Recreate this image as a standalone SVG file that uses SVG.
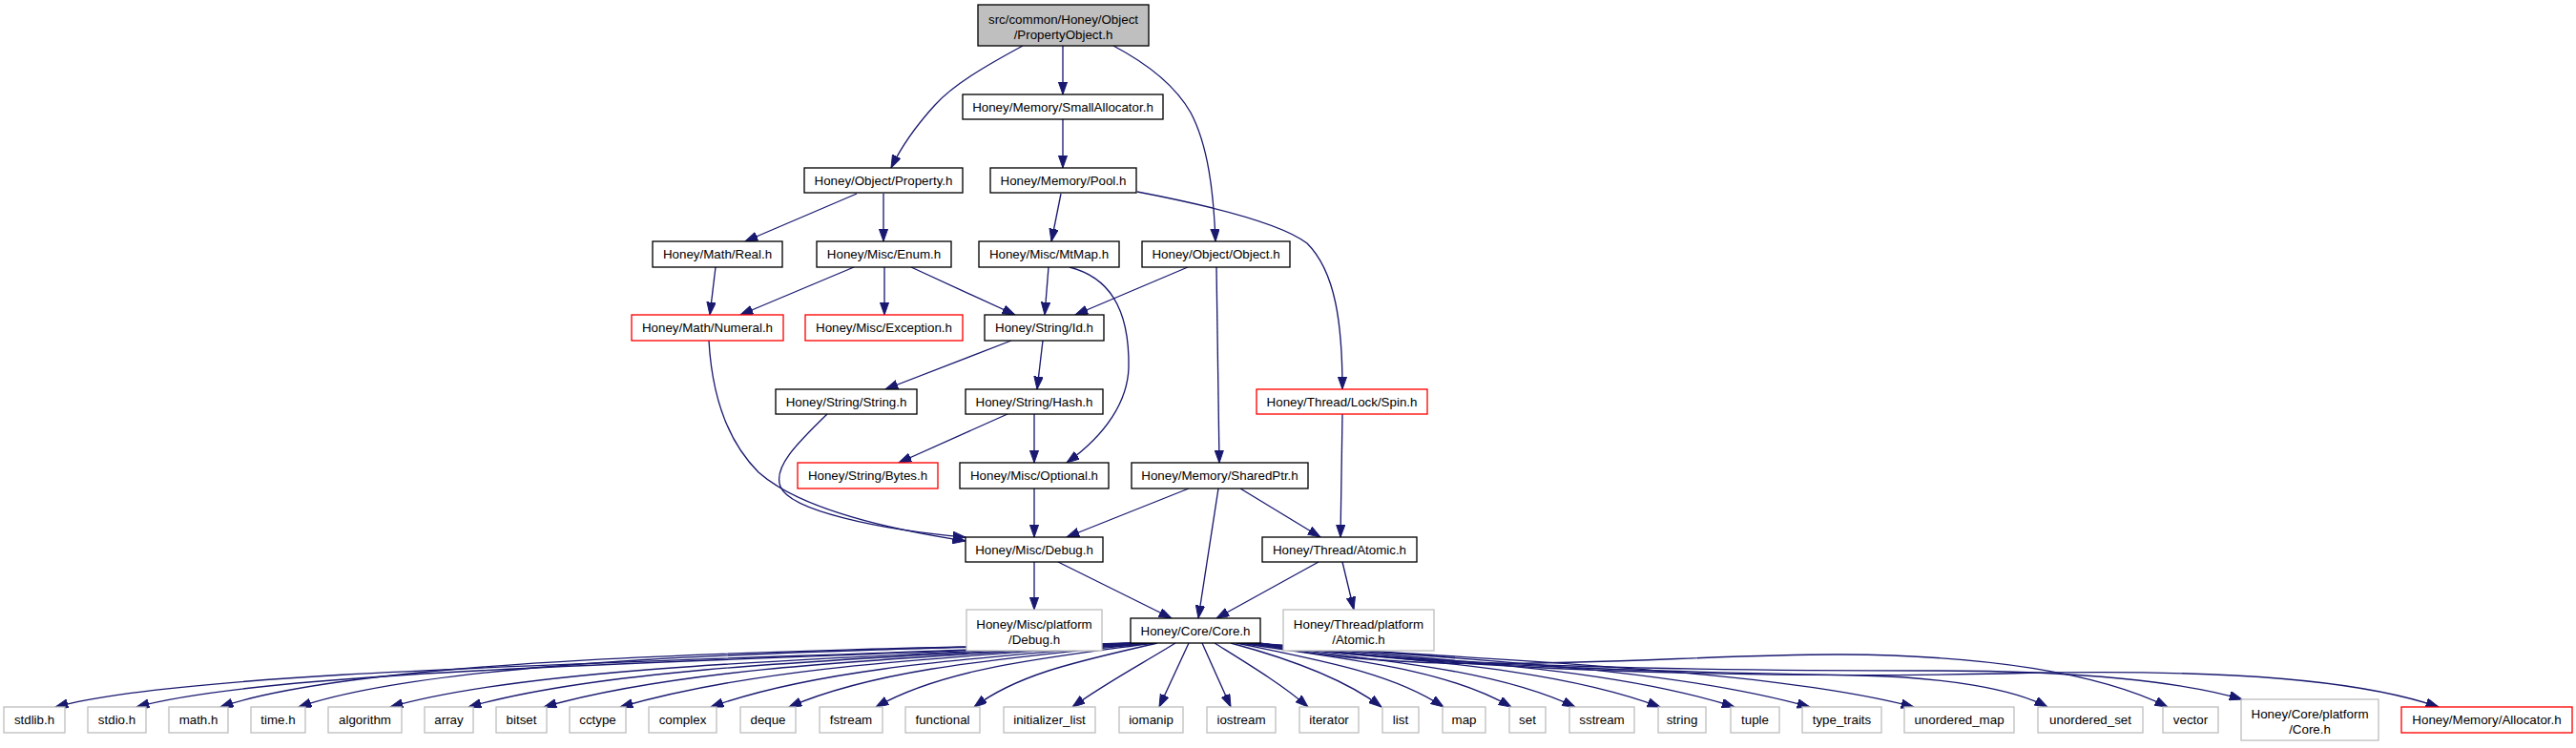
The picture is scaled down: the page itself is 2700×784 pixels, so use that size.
<svg xmlns="http://www.w3.org/2000/svg" width="2700" height="784" viewBox="0 0 2700 784">
<style>
rect{fill:#fff;stroke:#000;stroke-width:1.33}
.g rect{stroke:#bfbfbf}
.r rect{stroke:#ff0000}
.root rect{fill:#bfbfbf}
text{font-family:"Liberation Sans",Arial,sans-serif;font-size:13.33px;text-anchor:middle;fill:#000}
#edges path{fill:none;stroke:#191970;stroke-width:1.33;marker-end:url(#ah)}
</style>
<defs>
<marker id="ah" markerUnits="userSpaceOnUse" markerWidth="14" markerHeight="10" refX="13.3" refY="4.7" orient="auto"><path d="M0,0 L13.3,4.7 L0,9.4 z" fill="#191970" stroke="#191970" stroke-width="1"/></marker>
</defs>
<rect x="0" y="0" width="2700" height="784" style="fill:#fff;stroke:none"/>
<g id="edges">
<path d="M1114,48 L1114,99"/>
<path d="M1072,48 C1035,68 1000,88 980,110 C960,132 944,155 934,176"/>
<path d="M1167,48 C1205,68 1232,90 1248,118 C1266,152 1272,200 1274,253"/>
<path d="M1114,125 L1114,176"/>
<path d="M898,203 L781,253"/>
<path d="M926,203 L926,253"/>
<path d="M1112,203 L1102,253"/>
<path d="M1192,201 C1260,214 1340,232 1370,255 C1400,285 1407,340 1407,408"/>
<path d="M750,280 L744,330"/>
<path d="M895,280 L776,330"/>
<path d="M927,280 L927,330"/>
<path d="M955,280 L1064,330"/>
<path d="M1099,280 L1095,330"/>
<path d="M1121,280 C1160,290 1184,320 1183,385 C1182,420 1160,455 1118,485"/>
<path d="M1245,280 L1127,330"/>
<path d="M1275,280 L1278,485"/>
<path d="M1060,357 L928,408"/>
<path d="M1093,357 L1087,408"/>
<path d="M743,357 C746,410 760,460 795,495 C840,535 940,556 1012,567"/>
<path d="M867,434 C835,465 810,490 818,510 C828,535 920,555 1012,563"/>
<path d="M1056,434 L942,485"/>
<path d="M1084,434 L1084,485"/>
<path d="M1407,434 L1405,563"/>
<path d="M1084,512 L1084,563"/>
<path d="M1246,512 L1118,563"/>
<path d="M1277,512 L1256,648"/>
<path d="M1300,512 L1384,563"/>
<path d="M1084,589 L1084,639"/>
<path d="M1109,589 L1228,648"/>
<path d="M1382,589 L1275,648"/>
<path d="M1407,589 L1419,639"/>
<path d="M1188,674 C736,694 208,700 58,741"/>
<path d="M1190,674 C771,694 293,700 143,741"/>
<path d="M1193,674 C808,682 381,690 231,741"/>
<path d="M1195,674 C842,682 463,690 313,741"/>
<path d="M1197,674 C882,690 559,698 409,741"/>
<path d="M1199,674 C916,690 641,698 491,741"/>
<path d="M1201,674 C949,690 720,698 570,741"/>
<path d="M1203,674 C982,690 800,698 650,741"/>
<path d="M1205,674 C1021,690 860,700 745,741"/>
<path d="M1207,674 C1055,690 922,700 827,741"/>
<path d="M1209,674 C1093,690 991,700 918,741"/>
<path d="M1213,674 C1136,692 1069,705 1021,741"/>
<path d="M1232,674 C1200,694 1160,715 1124,741"/>
<path d="M1246,674 L1215,741"/>
<path d="M1260,674 L1290,741"/>
<path d="M1273,674 C1305,694 1345,718 1371,741"/>
<path d="M1290,674 C1350,690 1410,712 1448,741"/>
<path d="M1296,674 C1383,692 1459,705 1513,741"/>
<path d="M1300,674 C1414,692 1513,700 1584,741"/>
<path d="M1303,674 C1442,692 1564,700 1651,741"/>
<path d="M1306,674 C1480,692 1631,700 1740,741"/>
<path d="M1308,674 C1512,692 1690,700 1818,741"/>
<path d="M1310,674 C1545,692 1750,700 1897,741"/>
<path d="M1312,674 C1590,694 1856,702 2006,741"/>
<path d="M1314,674 C1500,700 1800,705 1950,708 C2040,710 2110,722 2146,741"/>
<path d="M1316,674 C1500,715 1750,685 1930,686 C2080,687 2200,705 2272,741"/>
<path d="M1318,674 C1500,700 1800,703 2030,703 C2180,703 2290,715 2350,733"/>
<path d="M1320,674 C1500,700 1800,712 2100,706 C2350,700 2480,715 2556,741"/>
</g>
<g id="root" class="root"><rect x="1025" y="5" width="179" height="43"/><text x="1114.5" y="24.5">src/common/Honey/Object</text><text x="1114.5" y="40.5">/PropertyObject.h</text></g>
<g id="smallallocator"><rect x="1009" y="99" width="210" height="26"/><text x="1114" y="116.5">Honey/Memory/SmallAllocator.h</text></g>
<g id="property"><rect x="843" y="176" width="166" height="26"/><text x="926" y="193.5">Honey/Object/Property.h</text></g>
<g id="pool"><rect x="1038" y="176" width="153" height="26"/><text x="1114.5" y="193.5">Honey/Memory/Pool.h</text></g>
<g id="real"><rect x="684" y="253" width="136" height="27"/><text x="752" y="271">Honey/Math/Real.h</text></g>
<g id="enum"><rect x="856" y="253" width="141" height="27"/><text x="926.5" y="271">Honey/Misc/Enum.h</text></g>
<g id="mtmap"><rect x="1026" y="253" width="147" height="27"/><text x="1099.5" y="271">Honey/Misc/MtMap.h</text></g>
<g id="object"><rect x="1197" y="253" width="155" height="27"/><text x="1274.5" y="271">Honey/Object/Object.h</text></g>
<g id="numeral" class="r"><rect x="662" y="330" width="159" height="27"/><text x="741.5" y="348">Honey/Math/Numeral.h</text></g>
<g id="exception" class="r"><rect x="844" y="330" width="165" height="27"/><text x="926.5" y="348">Honey/Misc/Exception.h</text></g>
<g id="id"><rect x="1032" y="330" width="125" height="27"/><text x="1094.5" y="348">Honey/String/Id.h</text></g>
<g id="string_h"><rect x="813" y="408" width="148" height="26"/><text x="887" y="425.5">Honey/String/String.h</text></g>
<g id="hash"><rect x="1012" y="408" width="144" height="26"/><text x="1084" y="425.5">Honey/String/Hash.h</text></g>
<g id="spin" class="r"><rect x="1317" y="408" width="179" height="26"/><text x="1406.5" y="425.5">Honey/Thread/Lock/Spin.h</text></g>
<g id="bytes" class="r"><rect x="836" y="485" width="147" height="27"/><text x="909.5" y="503">Honey/String/Bytes.h</text></g>
<g id="optional"><rect x="1006" y="485" width="156" height="27"/><text x="1084" y="503">Honey/Misc/Optional.h</text></g>
<g id="sharedptr"><rect x="1186" y="485" width="185" height="27"/><text x="1278.5" y="503">Honey/Memory/SharedPtr.h</text></g>
<g id="debug"><rect x="1012" y="563" width="144" height="26"/><text x="1084" y="580.5">Honey/Misc/Debug.h</text></g>
<g id="atomic"><rect x="1323" y="563" width="162" height="26"/><text x="1404" y="580.5">Honey/Thread/Atomic.h</text></g>
<g id="misc_platform_debug" class="g"><rect x="1013" y="639" width="142" height="43"/><text x="1084" y="658.5">Honey/Misc/platform</text><text x="1084" y="674.5">/Debug.h</text></g>
<g id="core"><rect x="1185" y="648" width="136" height="26"/><text x="1253" y="665.5">Honey/Core/Core.h</text></g>
<g id="thread_platform_atomic" class="g"><rect x="1345" y="639" width="158" height="43"/><text x="1424" y="658.5">Honey/Thread/platform</text><text x="1424" y="674.5">/Atomic.h</text></g>
<g id="stdlib" class="g"><rect x="4" y="741" width="64" height="27"/><text x="36" y="759">stdlib.h</text></g>
<g id="stdio" class="g"><rect x="92" y="741" width="61" height="27"/><text x="122.5" y="759">stdio.h</text></g>
<g id="math" class="g"><rect x="177" y="741" width="62" height="27"/><text x="208" y="759">math.h</text></g>
<g id="time" class="g"><rect x="263" y="741" width="57" height="27"/><text x="291.5" y="759">time.h</text></g>
<g id="algorithm" class="g"><rect x="344" y="741" width="77" height="27"/><text x="382.5" y="759">algorithm</text></g>
<g id="array" class="g"><rect x="445" y="741" width="51" height="27"/><text x="470.5" y="759">array</text></g>
<g id="bitset" class="g"><rect x="520" y="741" width="53" height="27"/><text x="546.5" y="759">bitset</text></g>
<g id="cctype" class="g"><rect x="597" y="741" width="59" height="27"/><text x="626.5" y="759">cctype</text></g>
<g id="complex" class="g"><rect x="680" y="741" width="71" height="27"/><text x="715.5" y="759">complex</text></g>
<g id="deque" class="g"><rect x="776" y="741" width="58" height="27"/><text x="805" y="759">deque</text></g>
<g id="fstream" class="g"><rect x="859" y="741" width="66" height="27"/><text x="892" y="759">fstream</text></g>
<g id="functional" class="g"><rect x="949" y="741" width="78" height="27"/><text x="988" y="759">functional</text></g>
<g id="initializer_list" class="g"><rect x="1052" y="741" width="96" height="27"/><text x="1100" y="759">initializer_list</text></g>
<g id="iomanip" class="g"><rect x="1173" y="741" width="67" height="27"/><text x="1206.5" y="759">iomanip</text></g>
<g id="iostream" class="g"><rect x="1265" y="741" width="72" height="27"/><text x="1301" y="759">iostream</text></g>
<g id="iterator" class="g"><rect x="1362" y="741" width="62" height="27"/><text x="1393" y="759">iterator</text></g>
<g id="list" class="g"><rect x="1449" y="741" width="38" height="27"/><text x="1468" y="759">list</text></g>
<g id="map" class="g"><rect x="1512" y="741" width="45" height="27"/><text x="1534.5" y="759">map</text></g>
<g id="set" class="g"><rect x="1582" y="741" width="38" height="27"/><text x="1601" y="759">set</text></g>
<g id="sstream" class="g"><rect x="1645" y="741" width="68" height="27"/><text x="1679" y="759">sstream</text></g>
<g id="string" class="g"><rect x="1738" y="741" width="50" height="27"/><text x="1763" y="759">string</text></g>
<g id="tuple" class="g"><rect x="1814" y="741" width="51" height="27"/><text x="1839.5" y="759">tuple</text></g>
<g id="type_traits" class="g"><rect x="1889" y="741" width="83" height="27"/><text x="1930.5" y="759">type_traits</text></g>
<g id="unordered_map" class="g"><rect x="1996" y="741" width="115" height="27"/><text x="2053.5" y="759">unordered_map</text></g>
<g id="unordered_set" class="g"><rect x="2136" y="741" width="110" height="27"/><text x="2191" y="759">unordered_set</text></g>
<g id="vector" class="g"><rect x="2267" y="741" width="58" height="27"/><text x="2296" y="759">vector</text></g>
<g id="core_platform_core" class="g"><rect x="2349" y="733" width="144" height="43"/><text x="2421" y="752.5">Honey/Core/platform</text><text x="2421" y="768.5">/Core.h</text></g>
<g id="allocator" class="r"><rect x="2517" y="741" width="179" height="27"/><text x="2606.5" y="759">Honey/Memory/Allocator.h</text></g>
</svg>
